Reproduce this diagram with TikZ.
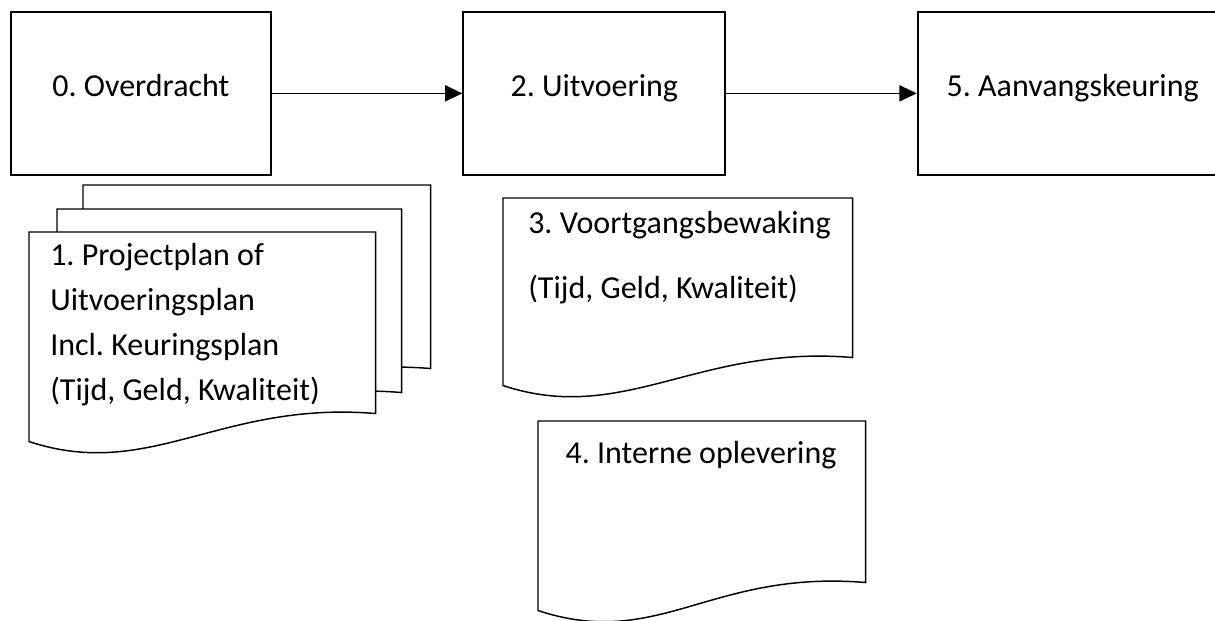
\documentclass[tikz,border=0pt]{standalone}
\usepackage{fontspec}
\setmainfont{Carlito}
\usetikzlibrary{positioning,calc,arrows.meta}
\frenchspacing

\newcommand{\blad}[1]{%
  \draw[blad] (#1.north west) -- (#1.north east) -- (#1.south east)
    .. controls +(-155,-13) and +(121,40) .. ($(#1.south west)+(0,28)$) -- cycle;}

\begin{document}
\begin{tikzpicture}[x=0.75pt, y=-0.75pt, node distance = 143pt]

  \tikzstyle{stap} = [draw, line width=1.3pt, minimum height=122.25pt, text height=12pt, text depth=8pt, font=\fontsize{24}{33.75}\selectfont]
  \tikzstyle{blad} = [draw, line width=1.1pt, fill=white]
  \tikzstyle{vel} = [inner sep=0pt, anchor=north west]
  \tikzstyle{tekst} = [font=\fontsize{24}{33.75}\selectfont, align=left, inner sep=0pt]
  \tikzstyle{pijl} = [-{Triangle[length=13pt, width=12pt]}, line width=1.3pt]

  \clip (0,0) rectangle (1215,621);

  \node[stap, minimum width=195pt, anchor=north west] (overdracht) at (10,11) {0. Overdracht};
  \node[stap, minimum width=196.5pt, right = of overdracht] (uitvoering) {2. Uitvoering};
  \node[stap, minimum width=232.5pt, right = of uitvoering] (keuring) {5. Aanvangskeuring};

  \draw[pijl] (overdracht) -- (uitvoering);
  \draw[pijl] (uitvoering) -- (keuring);

  % documenten
  \node[vel, minimum width=260.25pt, minimum height=137.25pt] (plan3) at (83,185) {};
  \node[vel, minimum width=258pt, minimum height=137.25pt] (plan2) at (57,209) {};
  \node[vel, minimum width=259.5pt, minimum height=135.75pt] (plan1) at (29,232) {};
  \node[vel, minimum width=261.75pt, minimum height=119.25pt] (bewaking) at (503,198) {};
  \node[vel, minimum width=245.25pt, minimum height=120.75pt] (oplevering) at (538,421) {};

  \blad{plan3}
  \blad{plan2}
  \blad{plan1}
  \blad{bewaking}
  \blad{oplevering}

  \node[tekst, anchor=west] (plantekst) at (50,325) {1. Projectplan of\\Uitvoeringsplan\\Incl. Keuringsplan\\(Tijd, Geld, Kwaliteit)};
  \node[tekst, anchor=west] (bewakingtekst) at (528,258) {3. Voortgangsbewaking\\[15pt](Tijd, Geld, Kwaliteit)};
  \node[tekst] (opleveringtekst) at (701,455) {4. Interne oplevering};
\end{tikzpicture}
\end{document}
